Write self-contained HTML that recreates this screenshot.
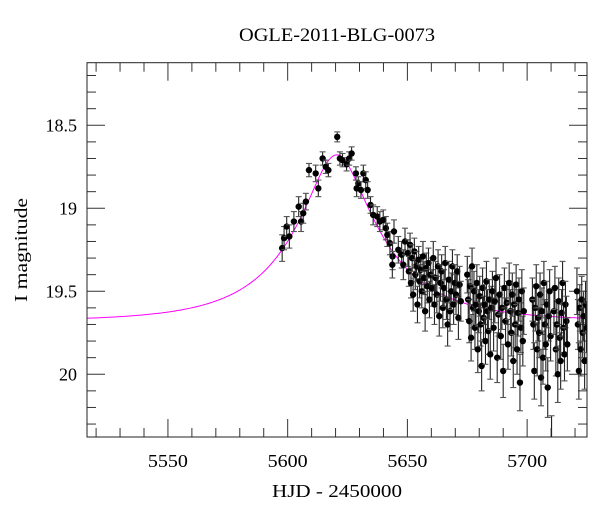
<!DOCTYPE html>
<html><head><meta charset="utf-8"><style>
html,body{margin:0;padding:0;background:#fff;}
svg{display:block;font-family:"Liberation Serif","DejaVu Serif",serif;}
</style></head><body>
<svg id="chart" width="600" height="512" viewBox="0 0 600 512" xmlns="http://www.w3.org/2000/svg">
<defs><clipPath id="pc"><rect x="87" y="62.7" width="500" height="374.3"/></clipPath></defs>
<rect x="0" y="0" width="600" height="512" fill="#fff"/>
<text x="337" y="41" font-size="19" text-anchor="middle" textLength="196" lengthAdjust="spacingAndGlyphs">OGLE-2011-BLG-0073</text>
<text x="337" y="497" font-size="18" text-anchor="middle" textLength="130" lengthAdjust="spacingAndGlyphs">HJD - 2450000</text>
<text transform="translate(27,250) rotate(-90)" font-size="18" text-anchor="middle" textLength="104" lengthAdjust="spacingAndGlyphs">I magnitude</text>
<g id="axes"></g>
<g id="model" clip-path="url(#pc)"></g>
<g id="pts" clip-path="url(#pc)"></g>
<rect x="87" y="62.7" width="500" height="374.3" fill="none" stroke="#222" stroke-width="1"/>
</svg>
<script>
const xTicksMajor = [5550, 5600, 5650, 5700];
const xTickLabels = ["5550", "5600", "5650", "5700"];
const yTicksMajor = [18.5, 19, 19.5, 20];
const yTickLabels = ["18.5", "19", "19.5", "20"];
const xDomain = [5516.2, 5725.0];
const yDomain = [18.123, 20.378];
const modelT0 = 5620.5;
const modelTE = 40;
const modelU0 = 0.3;
const modelFs = 0.62;
const modelBase = 19.68;
const obsT = [5597.7,5598.5,5599.6,5600.7,5602.6,5604.6,5605.6,5606.5,5607.6,5608.9,5611.7,5612.8,5614.6,5615.9,5617.0,5620.7,5621.8,5622.9,5624.6,5625.7,5626.7,5628.5,5629.5,5628.8,5630.6,5631.6,5632.6,5633.4,5634.6,5635.7,5637.4,5638.5,5639.9,5641.0,5641.6,5642.7,5643.8,5644.4,5643.7,5646.2,5647.6,5648.3,5649.0,
5650.2,5650.6,5651.1,5651.5,5652.0,5652.4,5652.9,5653.3,5653.8,5654.2,5654.7,5655.1,5655.6,5656.0,5656.5,5657.0,5657.4,5657.9,5658.3,5658.8,5659.2,5659.7,5660.3,5660.8,5661.3,5661.8,5662.3,5662.8,5663.3,5663.8,5664.3,5664.8,5665.3,5665.8,5666.3,5666.8,5667.3,5667.8,5668.3,5668.8,5669.3,5669.8,
5670.3,5670.8,5671.3,5671.8,5672.3,
5675.0,5675.4,5675.8,5676.2,5676.6,5677.0,5677.4,5677.8,5678.2,5678.6,5679.0,5679.4,5679.8,5680.2,5680.6,5681.0,5681.4,5681.8,5682.2,5682.6,5683.0,5683.4,5683.8,5684.2,5684.6,5685.0,
5685.5,5686.0,5686.5,5687.0,5687.5,5688.0,5688.5,5689.0,5689.5,5690.0,5690.5,5691.0,5691.5,5692.0,5692.5,5693.0,5693.4,5693.8,5694.2,5694.6,5695.0,5695.4,5695.8,5696.2,5696.6,5697.0,5697.4,5697.8,5698.2,5698.6,
5702.2,5702.6,5703.0,5703.4,5703.8,5704.2,5704.6,5705.0,5705.4,5705.8,5706.2,5706.6,5707.0,5707.4,5707.8,5708.2,5708.6,5709.0,5709.4,5709.8,5710.2,
5711.2,5711.6,5712.0,5712.4,5712.8,5713.2,5713.6,5714.0,5714.4,5714.8,5715.2,5715.6,5716.0,5716.4,5716.8,
5720.8,5721.2,5721.6,5722.0,5722.4,5722.8,5723.2,5723.6,5724.0,5724.4,5724.8];
const obsMag = [19.24,19.18,19.11,19.17,19.08,18.99,19.08,19.03,18.96,18.77,18.79,18.88,18.70,18.75,18.77,18.57,18.70,18.71,18.735,18.70,18.67,18.79,18.85,18.88,18.89,18.79,18.83,18.89,18.98,19.04,19.05,19.08,19.07,19.12,19.16,19.21,19.29,19.14,19.34,19.25,19.28,19.34,19.20,
19.27,19.38,19.22,19.45,19.30,19.52,19.26,19.40,19.35,19.58,19.31,19.44,19.37,19.50,19.29,19.42,19.62,19.36,19.47,19.33,19.55,19.40,19.48,19.30,19.58,19.42,19.52,19.35,19.65,19.45,19.38,19.60,19.48,19.33,19.55,19.70,19.43,19.62,19.50,19.35,19.58,19.45,
19.52,19.38,19.66,19.46,19.56,
19.40,19.55,19.68,19.47,19.78,19.35,19.60,19.50,19.72,19.58,19.45,19.85,19.62,19.53,19.70,19.95,19.48,19.66,19.58,19.80,19.44,19.62,19.74,19.55,19.88,19.60,
19.50,19.72,19.56,19.42,19.90,19.64,19.52,19.77,19.60,19.98,19.48,19.68,19.57,19.82,19.45,19.62,19.75,19.52,19.92,19.58,19.70,19.46,19.85,19.63,19.55,20.05,19.72,19.50,19.80,19.62,
19.55,19.70,19.98,19.60,19.47,19.85,19.66,19.75,19.52,20.02,19.62,19.90,19.45,19.70,19.82,19.58,20.08,19.65,19.50,19.77,20.40,
19.62,19.48,19.85,19.70,20.00,19.56,19.78,19.92,19.63,19.45,19.72,19.88,19.58,19.68,19.82,
19.50,19.70,19.98,19.60,19.85,19.55,19.75,19.65,19.92,19.58,19.72];
const obsErr = [0.08,0.07,0.06,0.07,0.06,0.06,0.06,0.06,0.05,0.04,0.05,0.05,0.04,0.04,0.04,0.03,0.04,0.04,0.04,0.04,0.04,0.04,0.04,0.05,0.05,0.05,0.05,0.05,0.05,0.06,0.06,0.06,0.06,0.07,0.07,0.07,0.08,0.07,0.08,0.08,0.08,0.09,0.08,
0.08,0.09,0.07,0.09,0.08,0.10,0.08,0.09,0.09,0.11,0.08,0.10,0.09,0.10,0.09,0.10,0.12,0.09,0.10,0.09,0.11,0.10,0.11,0.10,0.12,0.10,0.11,0.10,0.12,0.11,0.10,0.12,0.11,0.10,0.12,0.13,0.11,0.12,0.11,0.10,0.12,0.11,
0.12,0.10,0.13,0.11,0.12,
0.11,0.12,0.13,0.11,0.14,0.11,0.12,0.12,0.13,0.12,0.11,0.14,0.13,0.12,0.13,0.15,0.12,0.13,0.12,0.14,0.12,0.13,0.14,0.12,0.15,0.13,
0.12,0.14,0.13,0.12,0.15,0.13,0.12,0.14,0.13,0.16,0.12,0.14,0.13,0.15,0.12,0.13,0.14,0.13,0.16,0.13,0.14,0.12,0.15,0.14,0.13,0.17,0.15,0.13,0.15,0.14,
0.13,0.15,0.17,0.14,0.13,0.16,0.14,0.15,0.13,0.17,0.14,0.16,0.13,0.15,0.16,0.14,0.18,0.15,0.13,0.15,0.15,
0.14,0.13,0.16,0.15,0.17,0.14,0.15,0.17,0.14,0.13,0.15,0.16,0.14,0.15,0.16,
0.14,0.15,0.17,0.14,0.16,0.14,0.15,0.15,0.17,0.14,0.15];

const PL = 87, PR = 587, PT = 62.7, PB = 437;
function xs(t){ return PL + (t - xDomain[0]) / (xDomain[1] - xDomain[0]) * (PR - PL); }
function ys(m){ return PT + (m - yDomain[0]) / (yDomain[1] - yDomain[0]) * (PB - PT); }
const NS = "http://www.w3.org/2000/svg";
function mk(tag, attrs, parent){ const e = document.createElementNS(NS, tag); for (const k in attrs) e.setAttribute(k, attrs[k]); parent.appendChild(e); return e; }

const axes = document.getElementById('axes');
for (let t = 5520; t <= 5720; t += 10) {
  const major = xTicksMajor.indexOf(t) >= 0;
  const L = major ? 18 : 9, x = xs(t);
  const b = mk('line', {x1:x, x2:x, y1:PB, y2:PB-L, stroke:'#333', 'stroke-width':1}, axes);
  
  
  const tp = mk('line', {x1:x, x2:x, y1:PT, y2:PT+L, stroke:'#333', 'stroke-width':1}, axes);
  
  
}
xTicksMajor.forEach((t, i) => {
  const tx = mk('text', {x:xs(t), y:467, 'font-size':18, 'text-anchor':'middle', textLength:40, lengthAdjust:'spacingAndGlyphs'}, axes);
  tx.textContent = xTickLabels[i];
  
  
});
for (let k = 182; k <= 203; k++) {
  const m = k / 10;
  const major = yTicksMajor.some(v => Math.abs(v - m) < 1e-6);
  const L = major ? 18 : 9, y = ys(m);
  const l = mk('line', {x1:PL, x2:PL+L, y1:y, y2:y, stroke:'#333', 'stroke-width':1}, axes);
  
  
  const r = mk('line', {x1:PR, x2:PR-L, y1:y, y2:y, stroke:'#333', 'stroke-width':1}, axes);
  
  
}
yTicksMajor.forEach((m, i) => {
  const tx = mk('text', {x:77, y:ys(m)+6, 'font-size':18, 'text-anchor':'end'}, axes);
  tx.textContent = yTickLabels[i];
  
  
});

function modelMag(t){
  const tau = (t - modelT0) / modelTE;
  const u = Math.sqrt(modelU0*modelU0 + tau*tau);
  const A = (u*u + 2) / (u * Math.sqrt(u*u + 4));
  return modelBase - 2.5 * Math.log10(1 + modelFs * (A - 1));
}
let d = '';
for (let t = xDomain[0]; t <= xDomain[1] + 0.5; t += 0.5) {
  d += (d ? 'L' : 'M') + xs(t).toFixed(2) + ',' + ys(modelMag(t)).toFixed(2);
}
const mp = mk('path', {d:d, fill:'none', stroke:'#ff00ff', 'stroke-width':1}, document.getElementById('model'));



const pg = document.getElementById('pts');
for (let i = 0; i < obsT.length; i++) {
  const x = xs(obsT[i]), y = ys(obsMag[i]);
  const y1 = ys(obsMag[i] - obsErr[i]), y2 = ys(obsMag[i] + obsErr[i]);
  const g = mk('g', {}, pg);
  
  
  mk('line', {x1:x, x2:x, y1:y1, y2:y2, stroke:'#222', 'stroke-width':1.1}, g);
  mk('line', {x1:x-3, x2:x+3, y1:y1, y2:y1, stroke:'#555', 'stroke-width':1.1}, g);
  mk('line', {x1:x-3, x2:x+3, y1:y2, y2:y2, stroke:'#555', 'stroke-width':1.1}, g);
  mk('circle', {cx:x, cy:y, r:3.2, fill:'#000'}, g);
}
</script>
</body></html>
